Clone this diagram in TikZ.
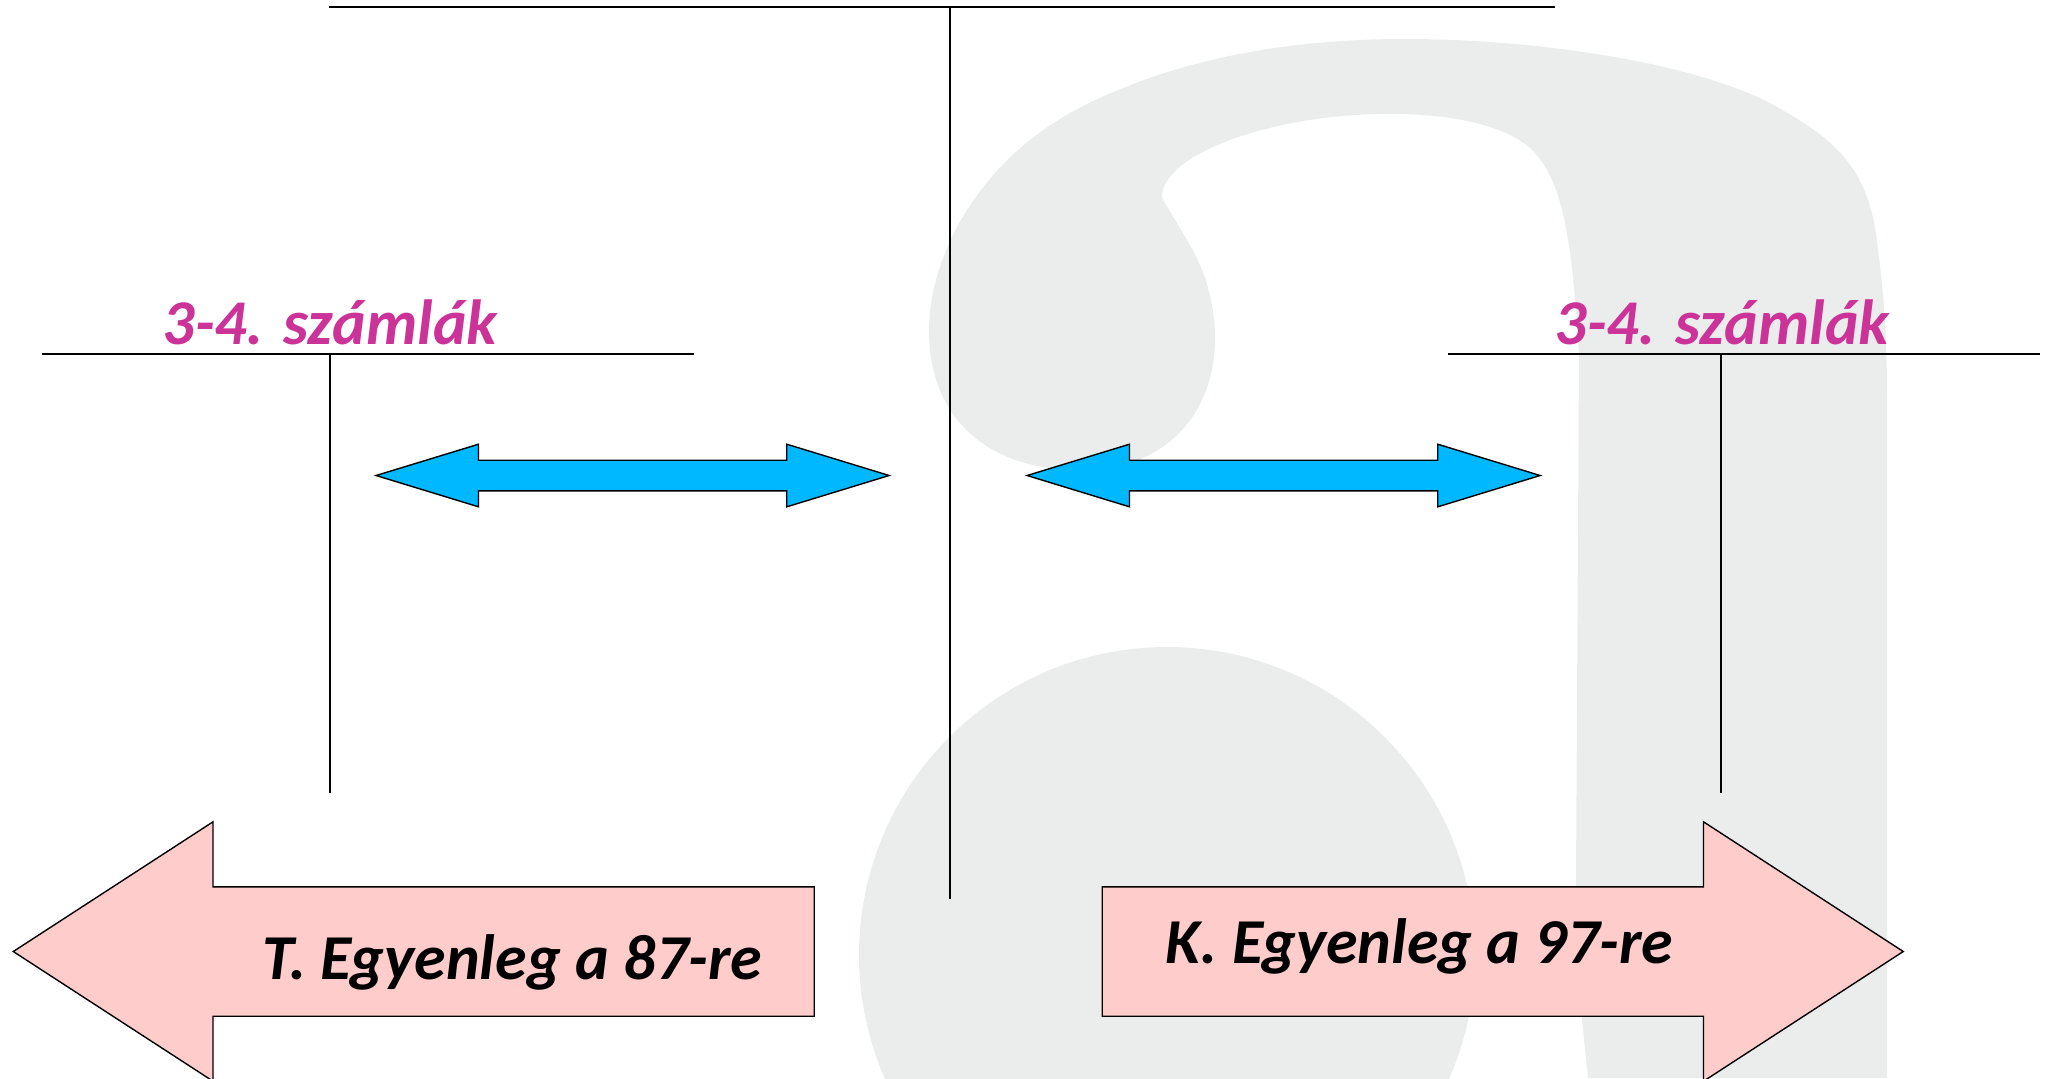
\documentclass[tikz,border=0pt]{standalone}
\usepackage{fontspec}
\setmainfont{Carlito}
\usetikzlibrary{shapes.arrows}
\definecolor{wmgray}{HTML}{EBECEC}
\definecolor{labelpink}{HTML}{CC3399}
\definecolor{flowblue}{HTML}{00B8FF}
\definecolor{balancepink}{HTML}{FFCCCC}
\tikzset{
  tline/.style={black, line width=0.9pt},
  stem/.style={black, line width=0.7pt},
  account/.style={inner sep=0pt, anchor=base, text=labelpink, font=\fontsize{31.9}{36}\selectfont\bfseries\itshape},
  balance/.style={inner sep=0pt, anchor=base, text=black, font=\fontsize{32}{36}\selectfont\bfseries\itshape},
  flow/.style={draw=black, fill=flowblue, line width=0.7pt, inner xsep=0pt, inner ysep=7.3pt, double arrow,
    minimum height=256.5pt, minimum width=31pt, double arrow head extend=8pt, double arrow tip angle=34},
  result/.style={draw=black, fill=balancepink, line width=0.7pt, inner xsep=0pt, inner ysep=32pt, single arrow,
    minimum height=400.5pt, minimum width=129pt, single arrow head extend=32.5pt, single arrow tip angle=66}
}

\begin{document}
\begin{tikzpicture}[x=0.5pt, y=-0.5pt]
  \useasboundingbox (0,0) rectangle (2049,1078);
  \clip (0,0) rectangle (2049,1078);
  % watermark
  \fill[wmgray] (1167,955) circle[radius=154pt];
  \fill[wmgray] (1588,1078) -- (1582,1020) -- (1576,880) -- (1579,355)
    .. controls (1572,230) and (1560,175) .. (1530,148)
    .. controls (1500,122) and (1440,113) .. (1383,114)
    .. controls (1270,115) and (1160,155) .. (1162,198)
    -- (1190,245)
    .. controls (1205,270) and (1215,305) .. (1215,338)
    .. controls (1215,410) and (1170,468) .. (1085,470)
    .. controls (990,472) and (929,420) .. (929,331)
    .. controls (929,260) and (975,160) .. (1085,105)
    .. controls (1180,58) and (1290,39) .. (1405,39)
    .. controls (1530,39) and (1680,60) .. (1764,100)
    .. controls (1840,140) and (1870,170) .. (1878,250)
    .. controls (1885,300) and (1887,350) .. (1887,400)
    -- (1887,1078) -- cycle;
  % T accounts
  \coordinate (mainleft) at (329,7);
  \coordinate (mainright) at (1555,7);
  \coordinate (maintop) at (950,7);
  \coordinate (mainbot) at (950,899);
  \coordinate (leftl) at (42,354);
  \coordinate (leftr) at (694,354);
  \coordinate (lefttop) at (330,354);
  \coordinate (leftbot) at (330,793);
  \coordinate (rightl) at (1448,354);
  \coordinate (rightr) at (2040,354);
  \coordinate (righttop) at (1721,354);
  \coordinate (rightbot) at (1721,793);
  \draw[tline] (mainleft) -- (mainright);
  \draw[stem] (maintop) -- (mainbot);
  \draw[tline] (leftl) -- (leftr);
  \draw[stem] (lefttop) -- (leftbot);
  \draw[tline] (rightl) -- (rightr);
  \draw[stem] (righttop) -- (rightbot);
  \node[account] (leftlabel) at (330,344) {3-4. számlák};
  \node[account] (rightlabel) at (1722,344) {3-4. számlák};
  % arrows
  \node[flow, anchor=tip 1] (flowright) at (1542.5,475.5) {};
  \node[flow, anchor=tip 1] (flowleft) at (891.5,475.5) {};
  \node[result, anchor=tip, shape border rotate=180] (resleft) at (12,951.5) {};
  \node[result, anchor=tip] (resright) at (1904.5,951.5) {};
  \node[balance] (tbal) at (512.5,979) {T. Egyenleg a 87-re};
  \node[balance] (kbal) at (1419.5,963) {K. Egyenleg a 97-re};
\end{tikzpicture}
\end{document}
